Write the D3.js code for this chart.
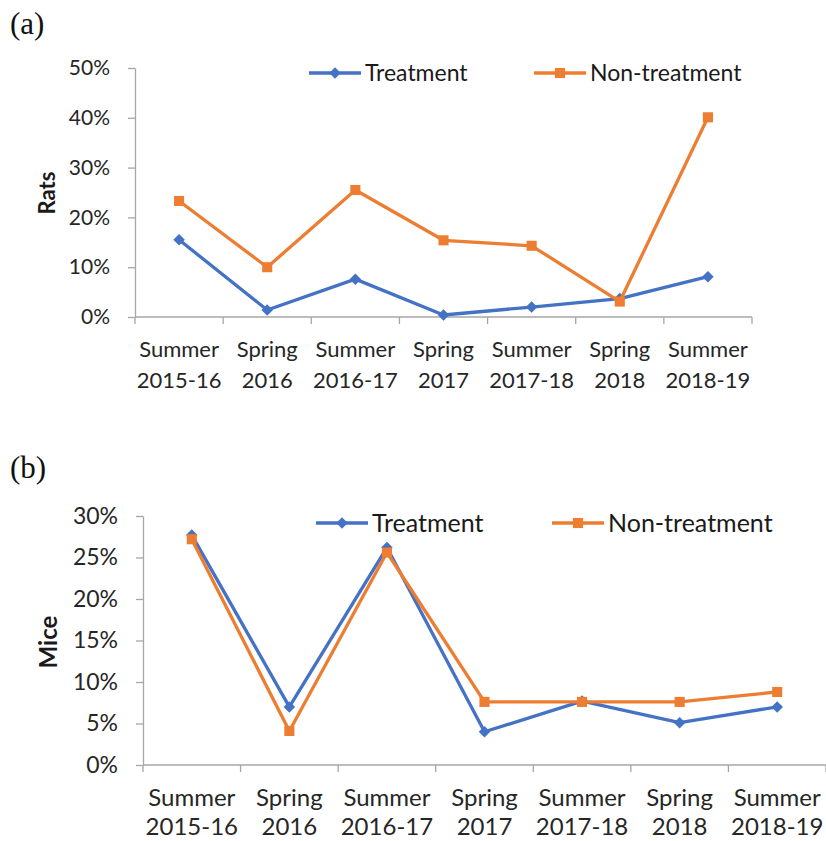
<!DOCTYPE html>
<html>
<head>
<meta charset="utf-8">
<script src="https://cdn.jsdelivr.net/npm/d3@7"></script>
<style>
  body { margin: 0; background: #fff; }
  svg { display: block; font-family: Lato, "Open Sans", sans-serif; }
  .axis .domain, .axis line { stroke: #a6a6a6; stroke-width: 1.3; }
  .axis text { fill: #262626; font-family: Lato, sans-serif; }
  .cat { fill: #262626; font-family: Lato, sans-serif; }
  .legend-text { fill: #1a1a1a; font-family: Lato, sans-serif; }
  .ylab { font-weight: bold; fill: #1a1a1a; font-family: Lato, sans-serif; }
  .panel { font-family: "Liberation Serif", serif; font-size: 31px; fill: #111; }
</style>
</head>
<body>
<div id="chart"></div>
<script>
// DATA ----------------------------------------
const seasons = ['Summer', 'Spring', 'Summer', 'Spring', 'Summer', 'Spring', 'Summer'];
const years = ['2015-16', '2016', '2016-17', '2017', '2017-18', '2018', '2018-19'];
const categories = seasons.map((s, i) => s + ' ' + years[i]);

const ratsTreatment = [0.155, 0.014, 0.076, 0.004, 0.020, 0.037, 0.081];
const ratsNonTreatment = [0.233, 0.100, 0.255, 0.154, 0.143, 0.031, 0.401];
const ratsTicks = [0, 0.1, 0.2, 0.3, 0.4, 0.5];

const miceTreatment = [0.277, 0.070, 0.262, 0.040, 0.077, 0.051, 0.070];
const miceNonTreatment = [0.272, 0.041, 0.256, 0.076, 0.076, 0.076, 0.088];
const miceTicks = [0, 0.05, 0.1, 0.15, 0.2, 0.25, 0.3];

const seriesNames = ['Treatment', 'Non-treatment'];
const colors = ['#4472C4', '#ED7D31'];

// CHART INIT ----------------------------------------
const W = 826, H = 841;

const svg = d3.select('#chart').append('svg')
  .attr('width', W)
  .attr('height', H);

function drawPanel(opt) {
  const g = svg.append('g');

  const xScale = d3.scaleBand()
    .domain(categories)
    .range([opt.left, opt.right])
    .paddingInner(0).paddingOuter(0);

  const yScale = d3.scaleLinear()
    .domain([0, d3.max(opt.ticks)])
    .range([opt.bottom, opt.top]);

  // y axis
  const yAxis = d3.axisLeft(yScale)
    .tickValues(opt.ticks)
    .tickSize(7)
    .tickSizeOuter(0)
    .tickPadding(opt.tickPad)
    .tickFormat(d3.format('.0%'));

  g.append('g')
    .attr('class', 'axis y-axis')
    .attr('transform', `translate(${opt.left},0)`)
    .call(yAxis)
    .selectAll('text')
    .style('font-size', opt.tickFont + 'px');

  // x axis: domain line only, ticks on category boundaries
  g.append('line')
    .attr('x1', opt.left).attr('x2', opt.right)
    .attr('y1', opt.bottom).attr('y2', opt.bottom)
    .attr('stroke', '#a6a6a6').attr('stroke-width', 1.3);

  const bounds = categories.map(c => xScale(c)).concat([opt.right]);
  g.selectAll('.xtick')
    .data(bounds)
    .enter().append('line')
    .attr('class', 'xtick')
    .attr('x1', d => d).attr('x2', d => d)
    .attr('y1', opt.bottom).attr('y2', opt.bottom + 7)
    .attr('stroke', '#a6a6a6').attr('stroke-width', 1.3);

  const cx = c => xScale(c) + xScale.bandwidth() / 2;

  const labels = g.selectAll('.cat')
    .data(categories)
    .enter().append('text')
    .attr('class', 'cat')
    .style('font-size', opt.catFont + 'px')
    .attr('text-anchor', 'middle');
  labels.append('tspan')
    .attr('x', d => cx(d))
    .attr('y', opt.bottom + opt.catY[0])
    .text((d, i) => seasons[i]);
  labels.append('tspan')
    .attr('x', d => cx(d))
    .attr('y', opt.bottom + opt.catY[1])
    .text((d, i) => years[i]);

  // y label
  g.append('text')
    .attr('class', 'ylab')
    .style('font-size', opt.ylabFont + 'px')
    .attr('text-anchor', 'middle')
    .attr('transform', `translate(${opt.ylabX},${opt.ylabY}) rotate(-90)`)
    .text(opt.ylabel);

  // panel letter
  g.append('text')
    .attr('class', 'panel')
    .attr('x', 10)
    .attr('y', opt.letterY)
    .text(opt.letter);

  const line = d3.line()
    .x((d, i) => cx(categories[i]))
    .y(d => yScale(d));

  const diamond = d3.symbol().type(d3.symbolDiamond2).size(85);
  const square = d3.symbol().type(d3.symbolSquare2).size(130);

  [opt.treat, opt.non].forEach((vals, k) => {
    g.append('path')
      .datum(vals)
      .attr('fill', 'none')
      .attr('stroke', colors[k])
      .attr('stroke-width', 3.3)
      .attr('stroke-linejoin', 'round')
      .attr('d', line);

    g.selectAll('.mk' + k)
      .data(vals)
      .enter().append('path')
      .attr('class', 'mk' + k)
      .attr('transform', (d, i) => `translate(${cx(categories[i])},${yScale(d)})`)
      .attr('d', k === 0 ? diamond() : square())
      .attr('fill', colors[k]);
  });

  // legend
  opt.legendX.forEach((lx, k) => {
    const lg = g.append('g').attr('transform', `translate(${lx},${opt.legendY})`);
    lg.append('line')
      .attr('x1', 0).attr('x2', 52)
      .attr('stroke', colors[k]).attr('stroke-width', 3.3);
    lg.append('path')
      .attr('transform', 'translate(26,0)')
      .attr('d', k === 0 ? diamond() : square())
      .attr('fill', colors[k]);
    lg.append('text')
      .attr('class', 'legend-text')
      .style('font-size', opt.legendFont + 'px')
      .attr('x', 56)
      .attr('dy', '0.35em')
      .text(seriesNames[k]);
  });
}

drawPanel({
  letter: '(a)', letterY: 34,
  left: 135, right: 752, top: 68, bottom: 317,
  ticks: ratsTicks, tickPad: 18, tickFont: 21,
  catFont: 22, catY: [40, 71],
  treat: ratsTreatment, non: ratsNonTreatment,
  ylabel: 'Rats', ylabX: 55, ylabY: 193, ylabFont: 22,
  legendX: [309, 534], legendY: 73, legendFont: 23
});

drawPanel({
  letter: '(b)', letterY: 478,
  left: 143, right: 826, top: 516, bottom: 765,
  ticks: miceTicks, tickPad: 18, tickFont: 23,
  catFont: 24, catY: [41, 70],
  treat: miceTreatment, non: miceNonTreatment,
  ylabel: 'Mice', ylabX: 57, ylabY: 642, ylabFont: 24,
  legendX: [316, 552], legendY: 523, legendFont: 25
});
</script>
</body>
</html>
